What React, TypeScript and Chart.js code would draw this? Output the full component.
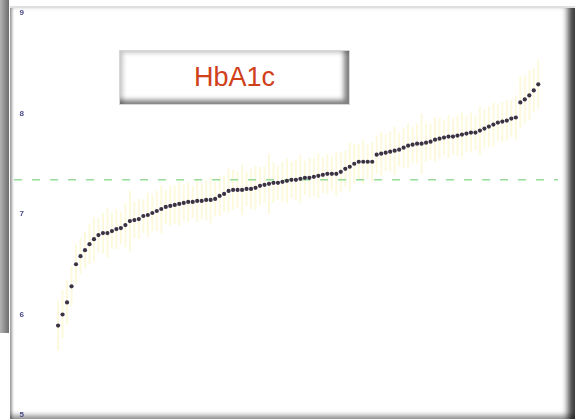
import React, { useEffect, useRef } from "react";
import { Chart, registerables } from "chart.js";
Chart.register(...registerables);

const titleText = "HbA1c";
const hba1cValues = [
  5.89, 6.0, 6.12, 6.28, 6.5, 6.58, 6.64, 6.7, 6.75, 6.79,
  6.81, 6.81, 6.83, 6.85, 6.86, 6.89, 6.93, 6.94, 6.95, 6.98,
  6.99, 7.01, 7.03, 7.05, 7.07, 7.08, 7.09, 7.1, 7.11, 7.12,
  7.12, 7.13, 7.13, 7.14, 7.14, 7.15, 7.18, 7.2, 7.23, 7.24,
  7.24, 7.24, 7.25, 7.25, 7.26, 7.28, 7.29, 7.3, 7.31, 7.31,
  7.32, 7.33, 7.34, 7.34, 7.35, 7.36, 7.36, 7.37, 7.38, 7.39,
  7.4, 7.4, 7.4, 7.42, 7.45, 7.47, 7.5, 7.52, 7.52, 7.52,
  7.52, 7.59, 7.6, 7.61, 7.62, 7.63, 7.64, 7.66, 7.68, 7.69,
  7.7, 7.7, 7.71, 7.72, 7.74, 7.75, 7.76, 7.77, 7.77, 7.78,
  7.79, 7.8, 7.81, 7.81, 7.83, 7.85, 7.87, 7.89, 7.91, 7.92,
  7.93, 7.95, 7.96, 8.11, 8.14, 8.18, 8.23, 8.29,
];
const errorHalfWidths = [
  0.25, 0.24, 0.22, 0.2, 0.2, 0.18, 0.18, 0.2, 0.22, 0.17,
  0.2, 0.25, 0.18, 0.2, 0.16, 0.22, 0.3, 0.18, 0.2, 0.17,
  0.22, 0.18, 0.2, 0.24, 0.17, 0.2, 0.19, 0.22, 0.18, 0.2,
  0.16, 0.21, 0.18, 0.2, 0.23, 0.17, 0.2, 0.18, 0.22, 0.2,
  0.18, 0.25, 0.17, 0.2, 0.22, 0.19, 0.18, 0.3, 0.2, 0.17,
  0.2, 0.22, 0.18, 0.2, 0.24, 0.17, 0.2, 0.19, 0.22, 0.18,
  0.2, 0.17, 0.22, 0.2, 0.18, 0.24, 0.2, 0.18, 0.22, 0.17,
  0.2, 0.19, 0.22, 0.18, 0.2, 0.24, 0.17, 0.2, 0.22, 0.18,
  0.2, 0.3, 0.19, 0.18, 0.22, 0.2, 0.17, 0.21, 0.18, 0.2,
  0.22, 0.18, 0.2, 0.17, 0.24, 0.19, 0.2, 0.22, 0.18, 0.2,
  0.2, 0.18, 0.22, 0.26, 0.24, 0.25, 0.22, 0.24,
];
const referenceValue = 7.34;
const yTickValues = [5, 6, 7, 8, 9];
const xMin = -6.7;
const xMax = 111.4;
const refLineStart = -9.8;

export default function App() {
  const canvasRef = useRef<HTMLCanvasElement>(null);

  useEffect(() => {
    const points = hba1cValues.map((v, i) => ({ x: i, y: v }));
    const errorBars = {
      id: "errorBars",
      beforeDatasetsDraw(chart: any) {
        const { ctx, scales } = chart;
        const xs = scales.x;
        const ys = scales.y;
        ctx.save();
        ctx.strokeStyle = "rgba(245,228,110,0.24)";
        ctx.lineWidth = 2;
        hba1cValues.forEach((v, i) => {
          const px = xs.getPixelForValue(i);
          ctx.beginPath();
          ctx.moveTo(px, ys.getPixelForValue(v - errorHalfWidths[i]));
          ctx.lineTo(px, ys.getPixelForValue(v + errorHalfWidths[i]));
          ctx.stroke();
        });
        ctx.restore();
      },
    };
    const chart = new Chart(canvasRef.current!, {
      type: "scatter",
      data: {
        datasets: [
          {
            type: "line",
            data: [
              { x: refLineStart, y: referenceValue },
              { x: xMax, y: referenceValue },
            ],
            borderColor: "#96dc96",
            borderDash: [8, 10],
            borderWidth: 1.5,
            pointRadius: 0,
            clip: false,
            order: 2,
          } as any,
          {
            data: points,
            pointRadius: 2.1,
            pointBackgroundColor: "#3b3344",
            pointBorderWidth: 0,
            order: 1,
          },
        ],
      },
      options: {
        animation: false,
        responsive: false,
        layout: { padding: { top: 13, bottom: 2, left: 0, right: 17 } },
        plugins: { legend: { display: false }, tooltip: { enabled: false } },
        scales: {
          x: { type: "linear", min: xMin, max: xMax, display: false },
          y: {
            min: 5,
            max: 9,
            afterBuildTicks: (s: any) => {
              s.ticks = yTickValues.map((v) => ({ value: v }));
            },
            afterFit: (s: any) => {
              s.width = 28;
              s.paddingTop = 0;
              s.paddingBottom = 0;
            },
            grid: { display: false, drawTicks: false },
            border: { display: false },
            ticks: {
              padding: 4,
              color: "#4b4b8a",
              font: { size: 8, family: "'Liberation Sans', Arial, sans-serif", weight: "bold" },
            },
          },
        },
      },
      plugins: [errorBars],
    });
    return () => chart.destroy();
  }, []);

  return (
    <div style={{ position: "fixed", left: 0, top: 0, width: 575, height: 419, overflow: "hidden", background: "#fff" }}>
      <div
        style={{
          position: "absolute", left: 0, top: 0, width: 9, height: 333,
          background: "linear-gradient(to right, #b4b4b4, #6c6c6c)",
        }}
      />
      <div
        style={{
          position: "absolute", left: 10, top: 6, width: 565, height: 413, boxSizing: "border-box",
          background: "#fff", borderTop: "2px solid #e0e0e0",
          boxShadow:
            "inset -11px 0 6px -4px rgba(0,0,0,0.75), inset 0 -7px 5px -3px rgba(0,0,0,0.38), inset 4px 0 3px -2px rgba(0,0,0,0.4)",
        }}
      />
      <canvas
        ref={canvasRef}
        width={575}
        height={419}
        style={{ position: "absolute", left: 0, top: 0, width: 575, height: 419 }}
      />
      <div
        style={{
          position: "absolute", left: 119, top: 50, width: 231, height: 55, boxSizing: "border-box",
          background: "#fff", border: "1px solid #d6d6d6",
          boxShadow: "inset -8px -7px 5px -3px rgba(0,0,0,0.5), inset 6px 5px 4px -3px rgba(0,0,0,0.22)",
          display: "flex", alignItems: "center", justifyContent: "center",
          font: "27px 'Liberation Sans', Arial, sans-serif", color: "#d0401a",
        }}
      >
        {titleText}
      </div>
    </div>
  );
}
